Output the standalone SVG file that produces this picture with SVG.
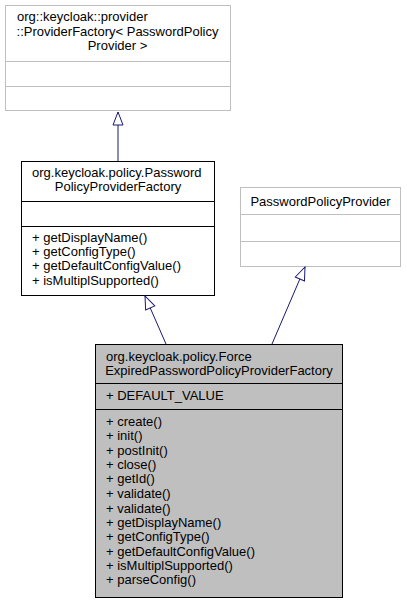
<svg xmlns="http://www.w3.org/2000/svg" width="407" height="603" viewBox="0 0 407 603">
<style>
  text { font-family: "Liberation Sans", Arial, sans-serif; font-size: 13px; fill: #000; }
  .c { text-anchor: middle; }
  .grey { fill: #ffffff; stroke: #bfbfbf; stroke-width: 1; }
  .black { fill: #ffffff; stroke: #000000; stroke-width: 1; }
  .main { fill: #bfbfbf; stroke: #000000; stroke-width: 1; }
  .gdiv { stroke: #bfbfbf; stroke-width: 1; }
  .bdiv { stroke: #000000; stroke-width: 1; }
  .edge { fill: none; stroke: #191970; stroke-width: 1; marker-end: url(#inherit); }
</style>
<defs>
  <marker id="inherit" markerUnits="userSpaceOnUse" markerWidth="16" markerHeight="14" refX="14" refY="6" orient="auto" viewBox="0 0 16 14">
    <path d="M1,1 L14,6 L1,11 Z" fill="#ffffff" stroke="#191970" stroke-width="1"/>
  </marker>
</defs>
<rect width="407" height="603" fill="#ffffff"/>

<g id="node-providerfactory">
  <rect class="grey" x="5.5" y="5.5" width="225" height="105"/>
  <line class="gdiv" x1="5.5" y1="61.5" x2="230.5" y2="61.5"/>
  <line class="gdiv" x1="5.5" y1="86.5" x2="230.5" y2="86.5"/>
  <text x="17" y="21">org::keycloak::provider</text>
  <text class="c" x="117.5" y="36">::ProviderFactory&lt; PasswordPolicy</text>
  <text class="c" x="117.5" y="50">Provider &gt;</text>
</g>

<g id="node-passwordpolicyproviderfactory">
  <rect class="black" x="21.5" y="161.5" width="193" height="134"/>
  <line class="bdiv" x1="21.5" y1="201.5" x2="214.5" y2="201.5"/>
  <line class="bdiv" x1="21.5" y1="226.5" x2="214.5" y2="226.5"/>
  <text x="32" y="177">org.keycloak.policy.Password</text>
  <text class="c" x="118" y="191">PolicyProviderFactory</text>
  <text x="32" y="242">+ getDisplayName()</text>
  <text x="32" y="256">+ getConfigType()</text>
  <text x="32" y="270">+ getDefaultConfigValue()</text>
  <text x="32" y="285">+ isMultiplSupported()</text>
</g>

<g id="node-passwordpolicyprovider">
  <rect class="grey" x="240.5" y="187.5" width="160" height="79"/>
  <line class="gdiv" x1="240.5" y1="214.5" x2="400.5" y2="214.5"/>
  <line class="gdiv" x1="240.5" y1="241.5" x2="400.5" y2="241.5"/>
  <text class="c" x="320.5" y="206">PasswordPolicyProvider</text>
</g>

<g id="node-forceexpired">
  <rect class="main" x="95.5" y="344.5" width="247" height="253"/>
  <line class="bdiv" x1="95.5" y1="383.5" x2="342.5" y2="383.5"/>
  <line class="bdiv" x1="95.5" y1="409.5" x2="342.5" y2="409.5"/>
  <text x="106" y="361">org.keycloak.policy.Force</text>
  <text class="c" x="219" y="375">ExpiredPasswordPolicyProviderFactory</text>
  <text x="106" y="400">+ DEFAULT_VALUE</text>
  <text x="106" y="426">+ create()</text>
  <text x="106" y="440">+ init()</text>
  <text x="106" y="454.5">+ postInit()</text>
  <text x="106" y="469">+ close()</text>
  <text x="106" y="483">+ getId()</text>
  <text x="106" y="498">+ validate()</text>
  <text x="106" y="512.5">+ validate()</text>
  <text x="106" y="527">+ getDisplayName()</text>
  <text x="106" y="541">+ getConfigType()</text>
  <text x="106" y="555.5">+ getDefaultConfigValue()</text>
  <text x="106" y="570">+ isMultiplSupported()</text>
  <text x="106" y="584">+ parseConfig()</text>
</g>

<g id="connectors">
  <path class="edge" d="M118,161 L118,112"/>
  <path class="edge" d="M166,344 L145,296"/>
  <path class="edge" d="M272,344 L305,267"/>
</g>
</svg>
